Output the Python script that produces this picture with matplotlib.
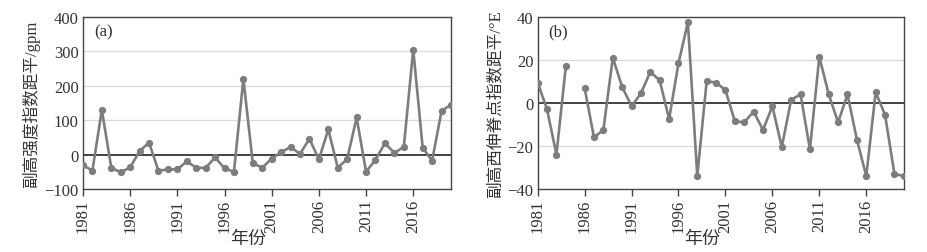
import numpy as np
import matplotlib
matplotlib.use("Agg")
import matplotlib.pyplot as plt

plt.rcParams["font.family"] = ["Liberation Serif", "Noto Sans CJK SC"]

years = np.arange(1981, 2021)

# (a) subtropical high intensity index anomaly, gpm
intensity = [-30, -47, 130, -38, -52, -37, 10, 35, -47, -43,
             -43, -20, -38, -39, -8, -40, -50, 220, -25, -38,
             -12, 7, 22, 2, 46, -14, 73, -38, -13, 108,
             -50, -15, 33, 5, 22, 305, 20, -18, 127, 145]

# (b) western ridge point index anomaly, degE (1985 missing)
ridge = [9.5, -3, -24, 17, np.nan, 7, -16, -12.5, 21, 7.5,
         -1.5, 4.5, 14.5, 10.5, -7.5, 18.5, 37.5, -34, 10, 9.5,
         6, -8.5, -9, -4, -12.5, -1.5, -20.5, 1.5, 4, -21.5,
         21.5, 4, -9, 4, -17, -34, 5, -5.5, -33, -34]

xticks = [1981, 1986, 1991, 1996, 2001, 2006, 2011, 2016]

fig = plt.figure(figsize=(9.27, 2.53), dpi=100)
ax1 = fig.add_axes([0.0895, 0.249, 0.397, 0.68])
ax2 = fig.add_axes([0.580, 0.249, 0.395, 0.68])

panels = [
    (ax1, intensity, (-100, 400), [-100, 0, 100, 200, 300, 400], "(a)", "副高强度指数距平/gpm"),
    (ax2, ridge, (-40, 40), [-40, -20, 0, 20, 40], "(b)", "副高西伸脊点指数距平/°E"),
]

text_col = "#333333"
for ax, vals, ylim, yticks, tag, ylabel in panels:
    for y in yticks:
        if y not in (0, ylim[0], ylim[1]):
            ax.axhline(y, color="#d9d9d9", lw=0.9, zorder=0)
    ax.axhline(0, color="#222222", lw=1.2, zorder=1)
    ax.plot(years, vals, color="#7d7d7d", lw=1.9, marker="o", ms=4.2, zorder=3)
    ax.set_xlim(1981, 2020)
    ax.set_ylim(*ylim)
    ax.set_xticks(xticks)
    ax.set_xticklabels([str(x) for x in xticks], rotation=90, fontsize=12, color=text_col)
    ax.set_yticks(yticks)
    ax.set_yticklabels([str(y).replace("-", "\u2212") for y in yticks], fontsize=12, color=text_col)
    ax.tick_params(axis="y", length=0, pad=3)
    ax.tick_params(axis="x", length=5, width=1, color="#444444", pad=2)
    for sp in ax.spines.values():
        sp.set_color("#444444")
        sp.set_linewidth(1)
    ax.text(0.03, 0.915, tag, transform=ax.transAxes, fontsize=12, color=text_col, va="center")
    ax.set_xlabel("年份", fontsize=13, color=text_col)
    ax.xaxis.set_label_coords(0.45, -0.24)
    ax.set_ylabel(ylabel, fontsize=12, color=text_col, labelpad=3)

fig.savefig("out.png", dpi=100)
